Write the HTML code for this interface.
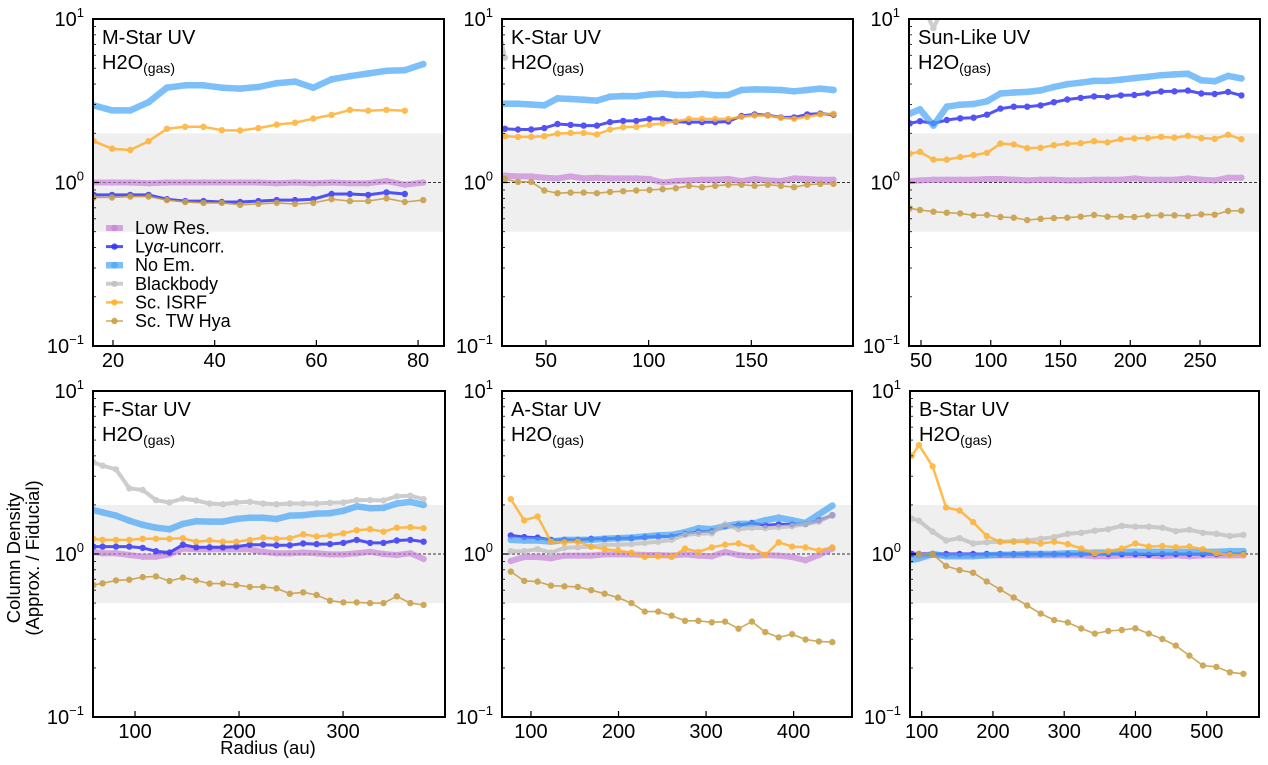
<!DOCTYPE html>
<html><head><meta charset="utf-8">
<style>
html,body{margin:0;padding:0;background:#fff;}
svg{display:block;font-family:"Liberation Sans","DejaVu Sans",sans-serif;}
</style></head>
<body>
<svg id="fig" width="1268" height="765" viewBox="0 0 1268 765" xmlns="http://www.w3.org/2000/svg"></svg>
<script>
// ---------- data ----------
const seriesNames = ["Low Res.","Lyα-uncorr.","No Em.","Blackbody","Sc. ISRF","Sc. TW Hya"];
const panelTitles = ["M-Star UV","K-Star UV","Sun-Like UV","F-Star UV","A-Star UV","B-Star UV"];

const mRadius = [16.2,19.8,23.4,27,30.6,34.2,37.8,41.4,45,48.6,52.2,55.8,59.4,63,66.6,70.2,73.8,77.4,81];
const mLowRes = [1.0,1.0,1.0,0.99,1.0,1.0,1.0,1.0,1.0,1.0,0.99,1.0,0.99,1.0,0.99,0.99,1.02,0.97,1.0];
const mLya    = [0.84,0.84,0.84,0.84,0.79,0.77,0.77,0.76,0.76,0.77,0.78,0.78,0.79,0.85,0.85,0.84,0.87,0.85,null];
const mNoEm   = [2.96,2.76,2.76,3.10,3.80,3.93,3.93,3.80,3.75,3.84,4.05,4.14,3.80,4.28,4.47,4.64,4.82,4.86,5.3];
const mBB     = [];
const mISRF   = [1.79,1.61,1.58,1.79,2.13,2.19,2.19,2.09,2.08,2.15,2.26,2.32,2.46,2.59,2.78,2.75,2.78,2.75,null];
const mTW     = [0.81,0.81,0.82,0.82,0.78,0.76,0.75,0.75,0.73,0.74,0.75,0.74,0.75,0.79,0.77,0.77,0.80,0.76,0.78];

const kRadius = [30,36.4,42.8,49.2,55.6,62,68.4,74.8,81.2,87.6,94,100.4,106.8,113.2,119.6,126,132.4,138.8,145.2,151.6,158,164.4,170.8,177.2,183.6,190];
const kLowRes = [1.10,1.09,1.09,1.07,1.06,1.09,1.06,1.07,1.06,1.06,1.06,1.05,1.0,1.02,1.03,1.04,1.04,1.05,1.02,1.05,1.03,1.02,1.06,1.05,1.04,1.04];
const kLya    = [2.13,2.11,2.11,2.15,2.28,2.25,2.23,2.23,2.34,2.38,2.38,2.45,2.45,2.35,2.34,2.34,2.34,2.36,2.55,2.61,2.58,2.50,2.50,2.61,2.64,2.60];
const kNoEm   = [3.03,3.03,3.0,2.96,3.27,3.24,3.21,3.17,3.35,3.38,3.37,3.46,3.49,3.43,3.43,3.48,3.42,3.43,3.68,3.71,3.70,3.68,3.61,3.68,3.75,3.68];
const kBBRadius = [23.6,30];
const kBB     = [14,5.8];
const kISRF   = [1.92,1.90,1.90,1.92,1.99,2.01,2.01,1.97,2.11,2.18,2.19,2.25,2.30,2.36,2.45,2.45,2.45,2.45,2.52,2.57,2.57,2.49,2.45,2.52,2.61,2.63];
const kTW     = [1.05,1.01,1.01,0.893,0.86,0.868,0.868,0.86,0.876,0.885,0.893,0.90,0.91,0.923,0.954,0.936,0.954,0.97,0.97,0.954,0.97,0.954,0.936,0.97,0.98,0.98];

const sRadius = [42,49.3,58.9,68.5,78.1,87.7,97.3,106.9,116.5,126.1,135.7,145.3,154.9,164.5,174.1,183.7,193.3,202.9,212.5,222.1,231.7,241.3,250.9,260.5,270.1,279.7];
const sLowRes = [1.02,1.03,1.04,1.04,1.04,1.04,1.05,1.05,1.04,1.03,1.04,1.04,1.03,1.03,1.04,1.04,1.04,1.06,1.04,1.04,1.04,1.06,1.04,1.03,1.07,1.07];
const sLya    = [2.30,2.37,2.30,2.41,2.47,2.49,2.60,2.83,2.91,2.91,2.96,3.10,3.22,3.29,3.36,3.35,3.41,3.43,3.50,3.60,3.61,3.65,3.50,3.48,3.58,3.41];
const sNoEm   = [2.64,2.80,2.23,2.91,2.99,3.02,3.14,3.50,3.55,3.58,3.66,3.84,3.99,4.08,4.18,4.18,4.26,4.35,4.43,4.53,4.58,4.62,4.22,4.16,4.49,4.33];
const sBB     = [null,13,8.8,13];
const sISRF   = [1.50,1.54,1.38,1.38,1.43,1.47,1.52,1.73,1.71,1.62,1.63,1.69,1.73,1.74,1.79,1.76,1.84,1.86,1.87,1.90,1.88,1.93,1.87,1.85,1.96,1.84];
const sTW     = [0.695,0.679,0.663,0.654,0.647,0.63,0.633,0.615,0.609,0.589,0.60,0.606,0.609,0.618,0.633,0.618,0.618,0.615,0.627,0.63,0.63,0.624,0.638,0.635,0.669,0.672];

const fRadius = [60,68.8,81.7,94.5,107.4,120.2,133.1,146,158.8,171.7,184.5,197.4,210.3,223.1,236,248.8,261.7,274.6,287.4,300.3,313.1,326,338.9,351.7,364.6,377.4];
const fLowRes = [1.03,1.01,1.01,0.986,0.963,0.963,0.995,1.08,1.07,1.07,1.07,1.07,1.07,1.03,1.01,1.01,1.02,1.01,0.995,0.995,1.01,1.03,1.0,0.986,1.01,0.932];
const fLya    = [1.11,1.11,1.11,1.11,1.09,1.04,1.02,1.14,1.10,1.10,1.10,1.11,1.14,1.14,1.13,1.13,1.16,1.15,1.15,1.17,1.22,1.17,1.17,1.21,1.22,1.19];
const fNoEm   = [1.86,1.80,1.72,1.60,1.51,1.45,1.42,1.53,1.59,1.58,1.58,1.64,1.67,1.67,1.64,1.72,1.73,1.77,1.78,1.84,1.96,1.91,1.92,2.04,2.09,2.00];
const fBB     = [3.65,3.48,3.31,2.53,2.47,2.14,2.07,2.19,2.13,2.04,2.02,2.07,2.09,2.04,2.02,2.04,2.04,2.04,2.06,2.07,2.14,2.14,2.13,2.26,2.28,2.17];
const fISRF   = [1.24,1.22,1.22,1.22,1.24,1.24,1.24,1.25,1.19,1.21,1.19,1.19,1.22,1.26,1.24,1.25,1.32,1.28,1.30,1.34,1.40,1.42,1.37,1.45,1.46,1.44];
const fTW     = [0.645,0.661,0.689,0.696,0.722,0.729,0.683,0.716,0.689,0.658,0.658,0.645,0.628,0.628,0.616,0.571,0.582,0.56,0.517,0.505,0.505,0.50,0.50,0.55,0.50,0.487];

const aRadius = [77,92.3,107.6,122.9,138.2,153.5,168.8,184.1,199.4,214.7,230,245.3,260.6,275.9,291.2,306.5,321.8,337.1,352.4,367.7,383,398.3,413.6,428.9,444.2];
const aLowRes = [0.906,0.958,0.958,0.941,0.977,0.977,0.977,0.995,0.995,0.995,0.986,0.986,0.977,0.995,0.977,0.968,1.03,0.986,0.968,0.986,0.977,0.958,0.915,0.986,1.08];
const aLya    = [1.30,1.27,1.26,1.22,1.22,1.22,1.24,1.24,1.25,1.25,1.27,1.28,1.28,1.33,1.37,1.38,1.48,1.50,1.55,1.50,1.52,1.52,1.53,1.61,1.73];
const aNoEm   = [1.22,1.21,1.21,1.19,1.22,1.22,1.22,1.24,1.25,1.26,1.28,1.30,1.31,1.36,1.44,1.42,1.48,1.53,1.53,1.61,1.67,1.61,1.55,1.75,1.98];
const aBB     = [1.04,1.04,1.07,1.02,1.09,1.10,1.11,1.14,1.14,1.15,1.17,1.19,1.22,1.31,1.33,1.34,1.52,1.42,1.45,1.44,1.46,1.48,1.52,1.58,1.73];
const aISRF   = [2.17,1.61,1.70,1.19,1.18,1.19,1.11,1.07,1.05,1.02,0.958,0.968,0.958,1.08,1.03,1.10,1.14,1.16,1.10,0.986,1.18,1.11,1.10,1.05,1.10];
const aTW     = [0.78,0.684,0.677,0.64,0.634,0.628,0.60,0.571,0.54,0.50,0.443,0.443,0.418,0.389,0.389,0.381,0.385,0.348,0.385,0.332,0.308,0.322,0.299,0.291,0.288];

const bRadius = [86,96.3,115.3,134.2,153.2,172.2,191.2,210.1,229.1,248.1,267,286,305,323.9,342.9,361.9,380.8,399.8,418.8,437.7,456.7,475.7,494.6,513.6,532.6,551.5];
const bLowRes = [1.0,0.98,0.99,0.98,0.98,0.98,0.98,0.98,0.98,0.98,0.98,0.98,0.98,0.98,0.97,0.97,0.98,0.98,0.98,0.97,0.98,0.97,0.98,0.98,0.98,0.98];
const bLya    = [1.0,1.0,1.0,1.0,1.0,1.0,1.0,1.0,1.0,1.0,1.0,1.0,1.0,1.0,1.0,1.0,1.0,1.0,0.99,1.0,1.0,1.0,1.0,1.0,1.0,1.0];
const bNoEm   = [0.92,0.94,1.0,0.97,0.97,0.97,0.98,0.99,0.99,1.0,1.0,1.0,1.01,1.01,1.02,1.02,1.03,1.03,1.03,1.03,1.03,1.03,1.03,1.03,1.04,1.04];
const bBB     = [1.65,1.60,1.37,1.21,1.25,1.16,1.18,1.19,1.20,1.21,1.24,1.27,1.33,1.35,1.39,1.42,1.49,1.47,1.47,1.45,1.38,1.41,1.35,1.33,1.29,1.31];
const bISRF   = [4.01,4.65,3.45,1.93,1.85,1.57,1.29,1.19,1.19,1.19,1.16,1.19,1.15,1.08,1.01,1.04,1.08,1.16,1.11,1.12,1.10,1.11,1.07,1.01,0.986,0.986];
const bTW     = [null,1.0,1.0,0.844,0.797,0.768,0.679,0.606,0.541,0.483,0.431,0.393,0.38,0.349,0.325,0.337,0.342,0.35,0.325,0.301,0.274,0.238,0.207,0.203,0.188,0.184];

const mTicks = [20,40,60,80], kTicks = [50,100,150], sTicks = [50,100,150,200,250];
const fTicks = [100,200,300], aTicks = [100,200,300,400], bTicks = [100,200,300,400,500];

// ---------- layout / style ----------
const NS = "http://www.w3.org/2000/svg";
const svg = document.getElementById("fig");
function mk(tag, attrs, parent){ const e=document.createElementNS(NS,tag); for(const k in attrs) e.setAttribute(k,attrs[k]); (parent||svg).appendChild(e); return e; }

const styles = [
  {color:"#c77dd9", w:6, op:0.65, r:3.2},
  {color:"#3535f5", w:3, op:0.85, r:3.2},
  {color:"#47a6f7", w:6.5, op:0.7, r:3.4},
  {color:"#bdbdbd", w:4, op:0.75, r:3.2},
  {color:"#ffb02e", w:2.5, op:0.85, r:3.2},
  {color:"#c9a048", w:1.6, op:0.9, r:3.2}
];
const panels = [
  {x0:93,x1:444,y0:19,y1:346,xmin:16.07,xmax:85.1,xs:mRadius,ticks:mTicks,series:[mLowRes,mLya,mNoEm,mBB,mISRF,mTW],key:"m-star"},
  {x0:502,x1:853,y0:19,y1:346,xmin:28.6,xmax:199.5,xs:kRadius,bbxs:kBBRadius,ticks:kTicks,series:[kLowRes,kLya,kNoEm,kBB,kISRF,kTW],key:"k-star"},
  {x0:909,x1:1260,y0:19,y1:346,xmin:41.4,xmax:293,xs:sRadius,ticks:sTicks,series:[sLowRes,sLya,sNoEm,sBB,sISRF,sTW],key:"sun-like"},
  {x0:93,x1:445,y0:391,y1:717,xmin:59.6,xmax:398,xs:fRadius,ticks:fTicks,series:[fLowRes,fLya,fNoEm,fBB,fISRF,fTW],key:"f-star"},
  {x0:502,x1:852,y0:391,y1:717,xmin:66.9,xmax:466.7,xs:aRadius,ticks:aTicks,series:[aLowRes,aLya,aNoEm,aBB,aISRF,aTW],key:"a-star"},
  {x0:910,x1:1259,y0:391,y1:717,xmin:83.6,xmax:573.4,xs:bRadius,ticks:bTicks,series:[bLowRes,bLya,bNoEm,bBB,bISRF,bTW],key:"b-star"}
];
const seriesKeys = ["low-res","lya-uncorr","no-em","blackbody","sc-isrf","sc-tw-hya"];

panels.forEach((p,pi)=>{
  const g = mk("g",{});
  
  
  const X = v => p.x0 + (v-p.xmin)/(p.xmax-p.xmin)*(p.x1-p.x0);
  const Y = v => p.y1 - (Math.log10(v)+1)/2*(p.y1-p.y0);
  const cid = "clip"+pi;
  const cp = mk("clipPath",{id:cid},g); mk("rect",{x:p.x0,y:p.y0,width:p.x1-p.x0,height:p.y1-p.y0},cp);
  const band = mk("rect",{x:p.x0,y:Y(2),width:p.x1-p.x0,height:Y(0.5)-Y(2),fill:"#efefef"},g);
  
  
  const ref = mk("line",{x1:p.x0,x2:p.x1,y1:Y(1),y2:Y(1),stroke:"#333","stroke-width":1,"stroke-dasharray":"3,2"},g);
  
  
  const sg = mk("g",{"clip-path":"url(#"+cid+")"},g);
  p.series.forEach((vals,si)=>{
    const st = styles[si];
    const xs = (si===3 && p.bbxs) ? p.bbxs : p.xs;
    const s = mk("g",{opacity:st.op},sg);
    
    
    let d=""; let pen=false;
    vals.forEach((v,i)=>{ if(v==null){pen=false;return;} d += (pen?"L":"M")+X(xs[i]).toFixed(1)+","+Y(v).toFixed(1); pen=true; });
    if(d){ const pl = mk("path",{d:d,fill:"none",stroke:st.color,"stroke-width":st.w,"stroke-linejoin":"round","stroke-linecap":"round"},s);
      
       }
    vals.forEach((v,i)=>{ if(v==null) return;
      const c = mk("circle",{cx:X(xs[i]).toFixed(1),cy:Y(v).toFixed(1),r:st.r,fill:st.color},s);
      
      
    });
  });
  const fr = mk("rect",{x:p.x0,y:p.y0,width:p.x1-p.x0,height:p.y1-p.y0,fill:"none",stroke:"#000","stroke-width":2},g);
  
  
  for(let e=-1;e<=1;e++){
    const y=Y(Math.pow(10,e));
    mk("line",{x1:p.x0,x2:p.x0+6,y1:y,y2:y,stroke:"#000","stroke-width":1.2},g);
    const t = mk("text",{x:p.x0-9,y:y+7,"font-size":20,"text-anchor":"end",fill:"#000"},g);
    
    
    t.appendChild(document.createTextNode("10"));
    const sup = mk("tspan",{dy:-9,"font-size":13},t); sup.textContent = (e<0?"−1":String(e));
    if(e<1) for(let m=2;m<=9;m++){ const yy=Y(m*Math.pow(10,e)); mk("line",{x1:p.x0,x2:p.x0+3,y1:yy,y2:yy,stroke:"#000","stroke-width":0.8},g); }
  }
  p.ticks.forEach(tv=>{
    const x=X(tv);
    mk("line",{x1:x,x2:x,y1:p.y1,y2:p.y1-6,stroke:"#000","stroke-width":1.2},g);
    const t = mk("text",{x:x,y:p.y1+21,"font-size":20,"text-anchor":"middle",fill:"#000"},g);
    
    
    t.textContent = tv;
  });
  const t1 = mk("text",{x:p.x0+9,y:p.y0+25,"font-size":20,fill:"#000"},g);
  
  
  t1.textContent = panelTitles[pi];
  const t2 = mk("text",{x:p.x0+9,y:p.y0+50,"font-size":20,fill:"#000"},g);
  
  
  t2.appendChild(document.createTextNode("H2O"));
  const sub = mk("tspan",{dy:4,"font-size":14},t2); sub.textContent="(gas)";
});

const lg = mk("g",{});


seriesNames.forEach((n,i)=>{
  const st=styles[i]; const y=228+i*18.6;
  const e = mk("g",{},lg);
  
  
  mk("line",{x1:106,x2:123,y1:y,y2:y,stroke:st.color,"stroke-width":st.w,opacity:st.op},e);
  mk("circle",{cx:114.5,cy:y,r:st.r,fill:st.color,opacity:st.op},e);
  const t = mk("text",{x:135,y:y+6,"font-size":18,fill:"#000"},e);
  if(i===1){ t.appendChild(document.createTextNode("Ly")); const a=mk("tspan",{"font-style":"italic"},t); a.textContent="α"; t.appendChild(document.createTextNode("-uncorr.")); }
  else t.textContent=n;
});

const xt = mk("text",{x:268,y:754,"font-size":18.5,"text-anchor":"middle",fill:"#000"});


xt.textContent = "Radius (au)";
const yt = mk("text",{transform:"translate(20,558) rotate(-90)","font-size":18.5,"text-anchor":"middle",fill:"#000"});


const l1 = mk("tspan",{x:0,dy:0},yt); l1.textContent="Column Density";
const l2 = mk("tspan",{x:0,dy:19},yt); l2.textContent="(Approx. / Fiducial)";
</script>
</body></html>
